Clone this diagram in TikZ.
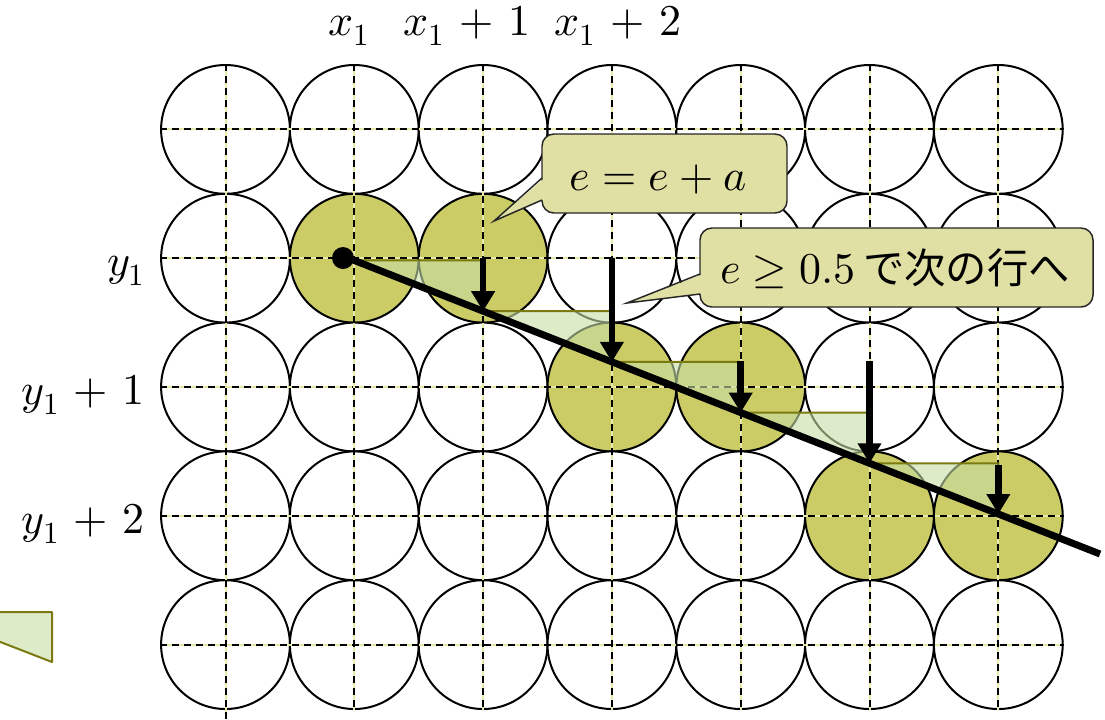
\documentclass[tikz,border=0pt]{standalone}
\usepackage{fontspec}
\usepackage{unicode-math}
\setmathfont{latinmodern-math.otf}
\newfontfamily\jpfont{Noto Sans CJK JP}
\usetikzlibrary{arrows.meta}
\definecolor{olivefill}{HTML}{CCCC66}
\definecolor{callfill}{HTML}{E0E0A4}
\definecolor{trifill}{RGB}{198,222,165}
\definecolor{triedge}{HTML}{7A7A10}
\definecolor{dashbase}{HTML}{E8E8A8}
\newcommand{\wm}[1]{$\medmuskip=6mu\relax #1$}
\begin{document}
\begin{tikzpicture}[x=0.75pt,y=-0.75pt,
 cell/.style={circle,draw=black,line width=1.5pt,fill=white,minimum size=96.6pt,inner sep=0pt},
 hit/.style={cell,fill=olivefill},
 gridbase/.style={dashbase,line width=1.5pt},
 griddash/.style={black,line width=1.5pt,dash pattern=on 5.5pt off 3.5pt},
 tri/.style={fill=trifill,fill opacity=0.6,draw=triedge,line width=1.5pt,line join=round},
 mainline/.style={line width=5.25pt,black},
 steparrow/.style={line width=5pt,-{Triangle[width=17pt,length=15pt]}},
 callbox/.style={fill=callfill,draw=black!85,line width=1.1pt,rounded corners=9pt,inner sep=0pt},
 calltail/.style={draw=black!85,line width=1.1pt,line join=miter},
 lbl/.style={font=\fontsize{33}{37}\selectfont,inner sep=0pt},
 ctext/.style={font=\fontsize{33}{38}\selectfont,inner sep=0pt}]
\useasboundingbox (0,0) rectangle (1105,719);
\clip (0,0) rectangle (1105,719);
% circles
\foreach \i in {0,...,6}{\foreach \j in {0,...,4}{
  \pgfmathtruncatemacro\r{(\i+1)/2}
  \ifnum\i>0 \ifnum\j=\r \def\st{hit}\else\def\st{cell}\fi\else\def\st{cell}\fi
  \node[\st] (c\i\j) at ({225.5+128.8*\i},{129.4+128.8*\j}) {};
}}
% grid lines
\coordinate (bot0) at (225.5,719);
\foreach \j in {0,...,4}{
  \draw[gridbase] (c0\j.west) -- (c6\j.east);
  \draw[griddash] (c0\j.west) -- (c6\j.east);
}
\foreach \i in {1,...,6}{
  \draw[gridbase] (c\i0.north) -- (c\i4.south);
  \draw[griddash] (c\i0.north) -- (c\i4.south);
}
\draw[gridbase] (c00.north) -- (bot0);
\draw[griddash] (c00.north) -- (bot0);
% line points
\coordinate (S) at (343,256);
\coordinate (E) at (1100,554);
\coordinate (P1) at (354.3,260.4);
\coordinate (P2) at (483.1,311.2);
\coordinate (P3) at (611.9,361.9);
\coordinate (P4) at (740.7,412.6);
\coordinate (P5) at (869.5,463.3);
\coordinate (P6) at (998.3,514.0);
% triangles
\foreach \a/\b in {P1/P2,P2/P3,P3/P4,P4/P5,P5/P6}
  \draw[tri] (\a) -- (\b |- \a) -- (\b) -- cycle;
\draw[tri] (-77,612) -- (52,612) -- (52,662) -- cycle;
% main line
\draw[mainline] (S) -- (E);
% arrows
\coordinate (A2) at (483.1,258.2);
\coordinate (A3) at (611.9,258.2);
\coordinate (A4) at (740.7,361);
\coordinate (A5) at (869.5,361);
\coordinate (A6) at (998.3,464.5);
\foreach \k in {2,...,6} \draw[steparrow] (A\k) -- (P\k);
% start dot
\node[circle,fill=black,minimum size=16.5pt,inner sep=0pt] (dot) at (343,258) {};
% callout 1
\node[callbox,minimum width=183.75pt,minimum height=59.25pt] (cb1) at (664.5,173.5) {};
\coordinate (t1a) at (542,178);
\coordinate (t1b) at (542,200);
\coordinate (tip1) at (494,221);
\fill[callfill] (544,178.6) -- (tip1) -- (544,199.4) -- cycle;
\draw[calltail] (t1a) -- (tip1) -- (t1b);
\node[ctext] (txt1) at (658,179) {$e=e+a$};
% callout 2
\node[callbox,minimum width=294.75pt,minimum height=59.25pt] (cb2) at (896.5,267.5) {};
\coordinate (t2a) at (700,274);
\coordinate (t2b) at (700,294);
\coordinate (tip2) at (627,303);
\fill[callfill] (702,274.6) -- (tip2) -- (702,293.4) -- cycle;
\draw[calltail] (t2a) -- (tip2) -- (t2b);
\node[ctext,anchor=base] (txt2) at (895,283) {$e\geq 0.5$\,{\jpfont\fontsize{31}{36}\selectfont で次の行へ}};
% labels
\node[lbl,anchor=base] (lx1) at (349,35) {\wm{x_1}};
\node[lbl,anchor=base] (lx2) at (467,35) {\wm{x_1+1}};
\node[lbl,anchor=base] (lx3) at (618,35) {\wm{x_1+2}};
\node[lbl,anchor=base east] (ly1) at (145,275) {\wm{y_1}};
\node[lbl,anchor=base east] (ly2) at (145,404) {\wm{y_1+1}};
\node[lbl,anchor=base east] (ly3) at (145,533) {\wm{y_1+2}};
\end{tikzpicture}
\end{document}
